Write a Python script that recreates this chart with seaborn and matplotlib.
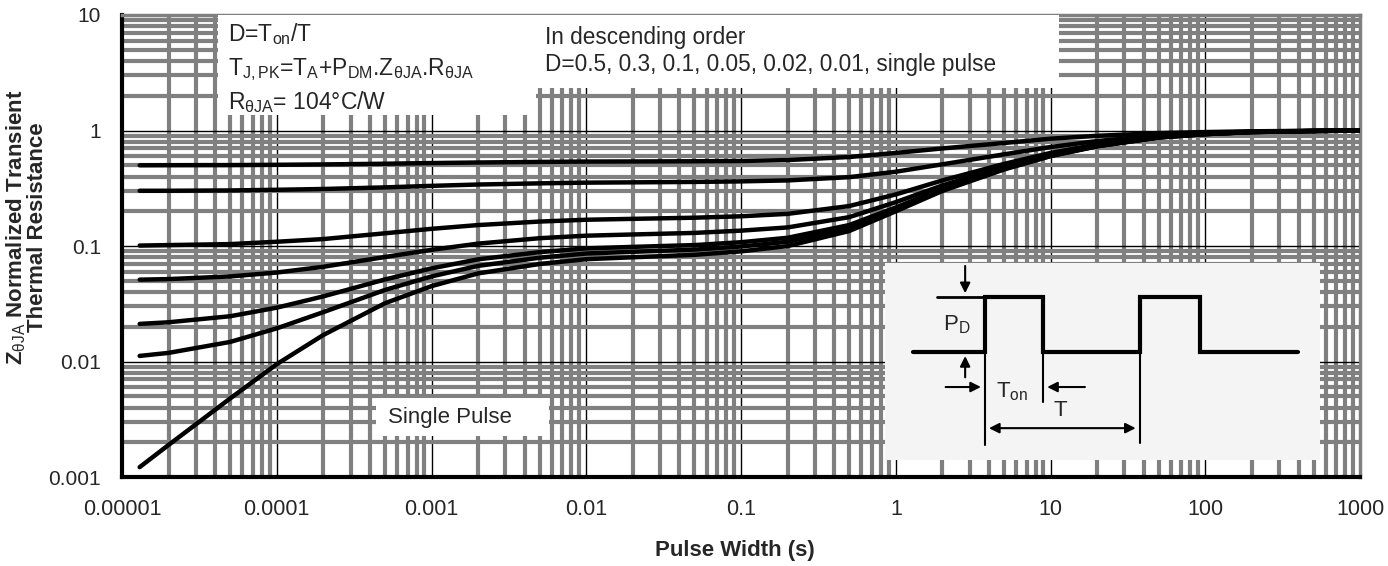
import pandas as pd
import matplotlib
matplotlib.use('Agg')
import matplotlib.pyplot as plt
import seaborn as sns
from matplotlib.ticker import LogLocator, FixedLocator, FixedFormatter, NullFormatter
from matplotlib.patches import Rectangle

# Transient thermal impedance curves
pulse_width = [1.3e-5, 2e-5, 5e-5, 1e-4, 2e-4, 5e-4, 1e-3, 2e-3, 5e-3, 1e-2, 2e-2, 5e-2,
               0.1, 0.2, 0.5, 1, 2, 5, 10, 20, 50, 100, 200, 500, 1000]
z_d050 = [0.500, 0.501, 0.502, 0.505, 0.509, 0.516, 0.523, 0.529, 0.535, 0.539, 0.540, 0.542,
          0.545, 0.555, 0.59, 0.64, 0.70, 0.78, 0.85, 0.90, 0.95, 0.97, 0.985, 0.995, 1.0]
z_d030 = [0.301, 0.301, 0.303, 0.307, 0.312, 0.322, 0.332, 0.341, 0.349, 0.354, 0.356, 0.359,
          0.363, 0.37, 0.395, 0.44, 0.51, 0.622, 0.72, 0.811, 0.909, 0.951, 0.979, 0.993, 1.0]
z_d010 = [0.101, 0.102, 0.104, 0.109, 0.115, 0.129, 0.141, 0.152, 0.163, 0.169, 0.172, 0.176,
          0.181, 0.19, 0.222, 0.28, 0.37, 0.514, 0.64, 0.757, 0.883, 0.937, 0.973, 0.991, 1.0]
z_d005 = [0.0512, 0.0518, 0.0546, 0.059, 0.0662, 0.0804, 0.0928, 0.105, 0.117, 0.123, 0.126, 0.130,
          0.136, 0.145, 0.178, 0.24, 0.335, 0.487, 0.62, 0.744, 0.877, 0.934, 0.972, 0.991, 1.0]
z_d002 = [0.0212, 0.0219, 0.0247, 0.0293, 0.0367, 0.0514, 0.0641, 0.0768, 0.0886, 0.0955, 0.0984, 0.102,
          0.108, 0.118, 0.152, 0.216, 0.314, 0.471, 0.608, 0.735, 0.873, 0.931, 0.971, 0.990, 1.0]
z_d001 = [0.0112, 0.0119, 0.0148, 0.0194, 0.0268, 0.0417, 0.0546, 0.0674, 0.0793, 0.0862, 0.0892, 0.0932,
          0.0991, 0.109, 0.144, 0.208, 0.307, 0.465, 0.604, 0.733, 0.871, 0.931, 0.970, 0.990, 1.0]
z_single = [0.00122, 0.0019, 0.0048, 0.0095, 0.017, 0.032, 0.045, 0.058, 0.070, 0.077, 0.080, 0.084,
            0.09, 0.10, 0.135, 0.2, 0.30, 0.46, 0.6, 0.73, 0.87, 0.93, 0.97, 0.99, 1.0]

duty_labels = ['0.5', '0.3', '0.1', '0.05', '0.02', '0.01', 'single pulse']
series = [z_d050, z_d030, z_d010, z_d005, z_d002, z_d001, z_single]

x_ticks = [1e-5, 1e-4, 1e-3, 1e-2, 1e-1, 1, 10, 100, 1000]
x_tick_labels = ['0.00001', '0.0001', '0.001', '0.01', '0.1', '1', '10', '100', '1000']
y_ticks = [0.001, 0.01, 0.1, 1, 10]
y_tick_labels = ['0.001', '0.01', '0.1', '1', '10']

rows = []
for lab, vals in zip(duty_labels, series):
    for t, z in zip(pulse_width, vals):
        rows.append({'t': t, 'z': z, 'D': lab})
df = pd.DataFrame(rows)

sns.set_style('white')
plt.rcParams['font.family'] = ['Liberation Sans', 'DejaVu Sans']
plt.rcParams['mathtext.fontset'] = 'custom'
plt.rcParams['mathtext.rm'] = 'Liberation Sans'
plt.rcParams['mathtext.it'] = 'Liberation Sans'

fig = plt.figure(figsize=(13.88, 5.66), dpi=100)
ax = fig.add_axes([0.0879, 0.157, 0.892, 0.8165])

sns.lineplot(data=df, x='t', y='z', hue='D', hue_order=duty_labels,
             palette=['black'] * 7, linewidth=3.2, estimator=None,
             legend=False, ax=ax, zorder=5)

ax.set_xscale('log')
ax.set_yscale('log')
ax.set_xlim(1e-5, 1000)
ax.set_ylim(1e-3, 10)

ax.xaxis.set_major_locator(FixedLocator(x_ticks))
ax.xaxis.set_major_formatter(FixedFormatter(x_tick_labels))
ax.yaxis.set_major_locator(FixedLocator(y_ticks))
ax.yaxis.set_major_formatter(FixedFormatter(y_tick_labels))
ax.xaxis.set_minor_locator(LogLocator(base=10, subs=range(2, 10), numticks=20))
ax.yaxis.set_minor_locator(LogLocator(base=10, subs=range(2, 10), numticks=20))
ax.xaxis.set_minor_formatter(NullFormatter())
ax.yaxis.set_minor_formatter(NullFormatter())

ax.set_axisbelow(True)
ax.grid(which='minor', color='#808080', linewidth=3)
ax.grid(which='major', color='black', linewidth=1)
ax.tick_params(which='both', length=0, labelsize=15.5)
ax.tick_params(axis='x', pad=16)
ax.tick_params(axis='y', pad=15, labelsize=15)

for side in ['left', 'bottom']:
    ax.spines[side].set_color('black')
    ax.spines[side].set_linewidth(3)
for side in ['top', 'right']:
    ax.spines[side].set_color('#808080')
    ax.spines[side].set_linewidth(2.5)

ax.set_xlabel('Pulse Width (s)', fontsize=16, fontweight='bold')
ax.xaxis.set_label_coords(0.495, -0.135)
ax.set_ylabel('Z$_{\\rm \u03b8JA}$ Normalized Transient\nThermal Resistance',
              fontsize=16, fontweight='bold', linespacing=0.95)
ax.yaxis.set_label_coords(-0.06, 0.54)

tr = ax.transAxes

# Text boxes
ax.add_patch(Rectangle((0.0775, 0.784), 0.2565, 0.216, transform=tr,
                       facecolor='white', edgecolor='none', zorder=3))
ax.text(0.0856, 0.958, 'D=T$_{\\rm on}$/T', transform=tr, fontsize=16.5, va='center', zorder=4)
ax.text(0.0856, 0.882, 'T$_{\\rm J,PK}$=T$_{\\rm A}$+P$_{\\rm DM}$.Z$_{\\rm \u03b8JA}$.R$_{\\rm \u03b8JA}$',
        transform=tr, fontsize=16.5, va='center', zorder=4)
ax.text(0.0856, 0.812, 'R$_{\\rm \u03b8JA}$= 104\u00b0C/W', transform=tr, fontsize=16.5, va='center', zorder=4)

ax.add_patch(Rectangle((0.334, 0.842), 0.423, 0.158, transform=tr,
                       facecolor='white', edgecolor='none', zorder=3))
ax.text(0.342, 0.952, 'In descending order', transform=tr, fontsize=16.3, va='center', zorder=4)
ax.text(0.342, 0.892, 'D=0.5, 0.3, 0.1, 0.05, 0.02, 0.01, single pulse', transform=tr,
        fontsize=16.3, va='center', zorder=4)

ax.add_patch(Rectangle((0.205, 0.088), 0.14, 0.084, transform=tr,
                       facecolor='white', edgecolor='none', zorder=3))
ax.text(0.215, 0.128, 'Single Pulse', transform=tr, fontsize=16, va='center', zorder=4)

# Pulse waveform inset
ax.add_patch(Rectangle((0.616, 0.037), 0.352, 0.426, transform=tr,
                       facecolor='#f4f4f4', edgecolor='none', zorder=3))
wave_x = [0.639, 0.697, 0.697, 0.744, 0.744, 0.822, 0.822, 0.871, 0.871, 0.950]
wave_y = [0.2706, 0.2706, 0.3896, 0.3896, 0.2706, 0.2706, 0.3896, 0.3896, 0.2706, 0.2706]
ax.plot(wave_x, wave_y, transform=tr, color='black', lw=3, zorder=6, solid_joinstyle='miter')
ax.plot([0.658, 0.697], [0.3896, 0.3896], transform=tr, color='black', lw=2, zorder=6)
ax.plot([0.697, 0.697], [0.2706, 0.069], transform=tr, color='black', lw=1.5, zorder=6)
ax.plot([0.744, 0.744], [0.2706, 0.162], transform=tr, color='black', lw=1.5, zorder=6)
ax.plot([0.822, 0.822], [0.2706, 0.074], transform=tr, color='black', lw=1.5, zorder=6)
arrow = dict(arrowstyle='-|>', color='black', lw=1.5, mutation_scale=15)
ax.annotate('', xy=(0.681, 0.392), xytext=(0.681, 0.463), xycoords=tr, textcoords=tr,
            arrowprops=arrow, zorder=6)
ax.annotate('', xy=(0.681, 0.268), xytext=(0.681, 0.21), xycoords=tr, textcoords=tr,
            arrowprops=arrow, zorder=6)
ax.annotate('', xy=(0.696, 0.195), xytext=(0.663, 0.195), xycoords=tr, textcoords=tr,
            arrowprops=arrow, zorder=6)
ax.annotate('', xy=(0.745, 0.195), xytext=(0.780, 0.195), xycoords=tr, textcoords=tr,
            arrowprops=arrow, zorder=6)
ax.annotate('', xy=(0.821, 0.106), xytext=(0.698, 0.106), xycoords=tr, textcoords=tr,
            arrowprops=dict(arrowstyle='<|-|>', color='black', lw=1.5, mutation_scale=15), zorder=6)
ax.text(0.663, 0.329, 'P$_{\\rm D}$', transform=tr, fontsize=16, va='center', zorder=6)
ax.text(0.706, 0.184, 'T$_{\\rm on}$', transform=tr, fontsize=16, va='center', zorder=6)
ax.text(0.758, 0.145, 'T', transform=tr, fontsize=16, va='center', ha='center', zorder=6)

fig.savefig('out.png', dpi=100)
